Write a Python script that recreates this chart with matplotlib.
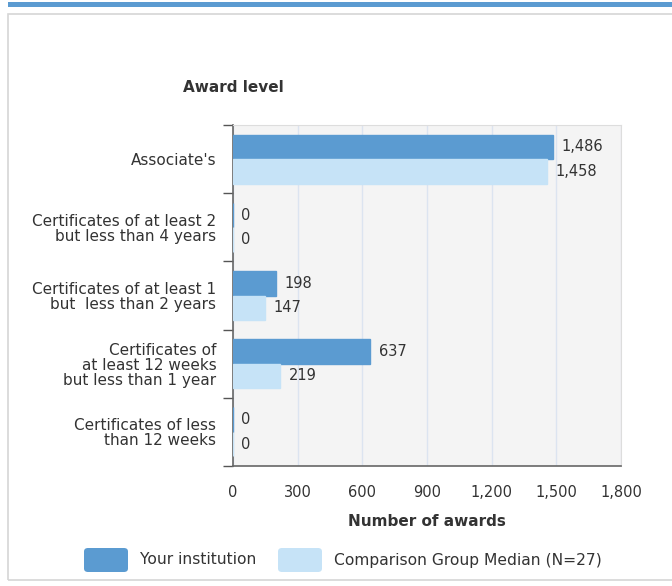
import numpy as np
import matplotlib.pyplot as plt
from matplotlib.patches import FancyBboxPatch, Rectangle

plt.rcParams['font.family'] = ['DejaVu Sans']

categorias = [
    "Associate's",
    "Certificates of at least 2\nbut less than 4 years",
    "Certificates of at least 1\nbut  less than 2 years",
    "Certificates of\nat least 12 weeks\nbut less than 1 year",
    "Certificates of less\nthan 12 weeks",
]
instituicao = [1486, 0, 198, 637, 0]
mediana = [1458, 0, 147, 219, 0]
serie_nomes = ["Your institution", "Comparison Group Median (N=27)"]

cor_escura = "#5b9bd1"
cor_clara = "#c6e3f7"
cor_texto = "#333333"

fig = plt.figure(figsize=(6.72, 5.86), dpi=100)

# moldura e faixa azul do topo
fig.add_artist(Rectangle((8 / 672, 1 - 7 / 586), 1, 5 / 586, transform=fig.transFigure,
                         color="#5b9bd1", lw=0))
fig.add_artist(Rectangle((8 / 672, 6 / 586), 1, 1 - 20 / 586, transform=fig.transFigure,
                         fill=False, edgecolor="#d6d6d6", lw=1.2))

ax = fig.add_axes([233 / 672, 120 / 586, 388 / 672, 341 / 586])
ax.set_facecolor("#f4f4f4")

y = np.arange(len(categorias))
h = 0.36
ax.barh(y - h / 2, instituicao, height=h, color=cor_escura, edgecolor=cor_escura, zorder=3)
ax.barh(y + h / 2, mediana, height=h, color=cor_clara, edgecolor=cor_clara, zorder=3)

for yi, v in zip(y, instituicao):
    ax.annotate(f"{v:,}", (v, yi - h / 2), xytext=(6, 0), textcoords="offset points",
                va="center", ha="left", fontsize=10.5, color=cor_texto)
for yi, v in zip(y, mediana):
    ax.annotate(f"{v:,}", (v, yi + h / 2), xytext=(6, 0), textcoords="offset points",
                va="center", ha="left", fontsize=10.5, color=cor_texto)

ax.set_xlim(0, 1800)
ax.set_ylim(len(categorias) - 0.5, -0.5)
ax.set_xticks(np.arange(0, 1801, 300))
ax.set_xticklabels([f"{t:,}" for t in range(0, 1801, 300)])
ax.set_yticks(y)
ax.set_yticklabels(categorias, ha="right", linespacing=1.0)
ax.set_yticks(np.arange(-0.5, len(categorias)), minor=True)
ax.tick_params(axis="y", which="major", length=0, pad=12, labelsize=11, labelcolor=cor_texto)
ax.tick_params(axis="y", which="minor", length=7, width=1, color="#555555")
ax.tick_params(axis="x", length=0, pad=14, labelsize=10.5, labelcolor=cor_texto)
ax.grid(axis="x", color="#dce4f0", lw=1, zorder=0)

for lado in ["top", "right"]:
    ax.spines[lado].set_color("#dddddd")
for lado in ["left", "bottom"]:
    ax.spines[lado].set_color("#666666")
    ax.spines[lado].set_linewidth(1.2)

ax.set_xlabel("Number of awards", fontsize=11, fontweight="bold", color=cor_texto, labelpad=10)
fig.text(233 / 672, 1 - 88 / 586, "Award level", fontsize=11, fontweight="bold",
         color=cor_texto, ha="center", va="center")

# legenda
for x0, cor, nome in [(84, cor_escura, serie_nomes[0]), (278, cor_clara, serie_nomes[1])]:
    fig.add_artist(FancyBboxPatch((x0 / 672, 1 - 572 / 586), 44 / 672, 24 / 586,
                                  boxstyle="round,pad=0,rounding_size=0.006",
                                  transform=fig.transFigure, color=cor, lw=0))
    fig.text((x0 + 56) / 672, 1 - 560 / 586, nome, fontsize=11.2, color=cor_texto,
             ha="left", va="center")

plt.savefig("out.png", dpi=100)
